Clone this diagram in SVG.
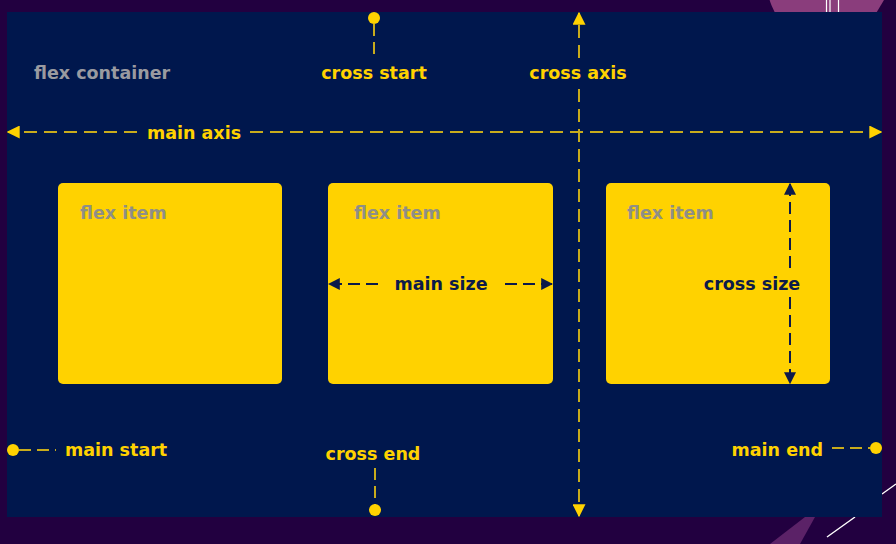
<svg xmlns="http://www.w3.org/2000/svg" width="896" height="544" viewBox="0 0 896 544">
<style>
.lbl{font-family:"DejaVu Sans","Liberation Sans",sans-serif;font-weight:bold;font-size:17.5px;fill:#ffd200}
.gray{font-family:"DejaVu Sans","Liberation Sans",sans-serif;font-weight:bold;font-size:17.5px;fill:#8f8f86}
.dark{font-family:"DejaVu Sans","Liberation Sans",sans-serif;font-weight:bold;font-size:17.5px;fill:#0c1a4a}
.item{fill:#ffd200}
.axis{stroke:#c8ab1c;stroke-width:2;stroke-dasharray:13 7;fill:none}
.tick{stroke:#c8ab1c;stroke-width:2;stroke-dasharray:12 6;fill:none}
.dim{stroke:#0c1a4a;stroke-width:2;stroke-dasharray:12 6;fill:none}
.dot{fill:#ffd200}
</style>
<defs>
<marker id="ay" viewBox="0 0 10 10" refX="9" refY="5" markerWidth="13" markerHeight="13" orient="auto-start-reverse" markerUnits="userSpaceOnUse"><path d="M0,0 L10,5 L0,10 z" fill="#ffd200"/></marker>
<marker id="ad" viewBox="0 0 10 10" refX="9" refY="5" markerWidth="12" markerHeight="12" orient="auto-start-reverse" markerUnits="userSpaceOnUse"><path d="M0,0 L10,5 L0,10 z" fill="#0c1a4a"/></marker>
</defs>
<rect width="896" height="544" fill="#220040"/>
<circle cx="830" cy="-18" r="63" fill="#8a3d7c"/>
<path d="M884,0 L896,0 L896,30 L866,30 Z" fill="#22003e"/>
<g stroke="#ffffff" stroke-width="1.2"><line x1="826.5" y1="0" x2="826.5" y2="12"/><line x1="830" y1="0" x2="830" y2="12"/><line x1="838.5" y1="0" x2="838.5" y2="12"/></g>
<path d="M770,544 L800,544 L815,517 L805,517 Z" fill="#6a2a70" opacity="0.8"/>
<line x1="827" y1="537" x2="855" y2="517" stroke="#ffffff" stroke-width="1.4"/>
<line x1="882" y1="494" x2="896" y2="484" stroke="#ffffff" stroke-width="1.4"/>
<rect x="7" y="12" width="875" height="505" fill="#00174d"/>
<g id="container"><text class="gray" x="34" y="79" style="fill:#9a9aa0">flex container</text></g>
<g id="item1"><rect class="item" x="58" y="183" width="224" height="201" rx="5"/><text class="gray" x="80" y="219">flex item</text></g>
<g id="item2"><rect class="item" x="328" y="183" width="225" height="201" rx="5"/><text class="gray" x="354" y="219">flex item</text>
<text class="dark" x="441" y="290" text-anchor="middle">main size</text></g>
<g id="item3"><rect class="item" x="606" y="183" width="224" height="201" rx="5"/><text class="gray" x="627" y="219">flex item</text>
<text class="dark" x="752" y="290" text-anchor="middle">cross size</text></g>
<g id="labels">
<text class="lbl" x="194" y="139" text-anchor="middle">main axis</text>
<text class="lbl" x="374" y="79" text-anchor="middle">cross start</text>
<text class="lbl" x="578" y="79" text-anchor="middle">cross axis</text>
<text class="lbl" x="373" y="460" text-anchor="middle">cross end</text>
<text class="lbl" x="65" y="456">main start</text>
<text class="lbl" x="823" y="456" text-anchor="end">main end</text>
</g>
<g id="connectors">
<path class="axis" d="M137,132 H8" marker-end="url(#ay)"/>
<path class="axis" d="M250,132 H881" marker-end="url(#ay)"/>
<path class="axis" d="M579,58 V13" marker-end="url(#ay)"/>
<path class="axis" d="M579,89 V516" marker-end="url(#ay)"/>
<path class="tick" d="M374,24 V57"/>
<circle class="dot" cx="374" cy="18" r="6"/>
<path class="tick" d="M375,468 V505"/>
<circle class="dot" cx="375" cy="510" r="6"/>
<path class="tick" d="M19,450 H56"/>
<circle class="dot" cx="13" cy="450" r="6"/>
<path class="tick" d="M832,448 H870"/>
<circle class="dot" cx="876" cy="448" r="6"/>
<path class="dim" d="M378,284 H329" marker-end="url(#ad)"/>
<path class="dim" d="M505,284 H552" marker-end="url(#ad)"/>
<path class="dim" d="M790,268 V184" marker-end="url(#ad)"/>
<path class="dim" d="M790,297 V383" marker-end="url(#ad)"/>
</g>
</svg>
